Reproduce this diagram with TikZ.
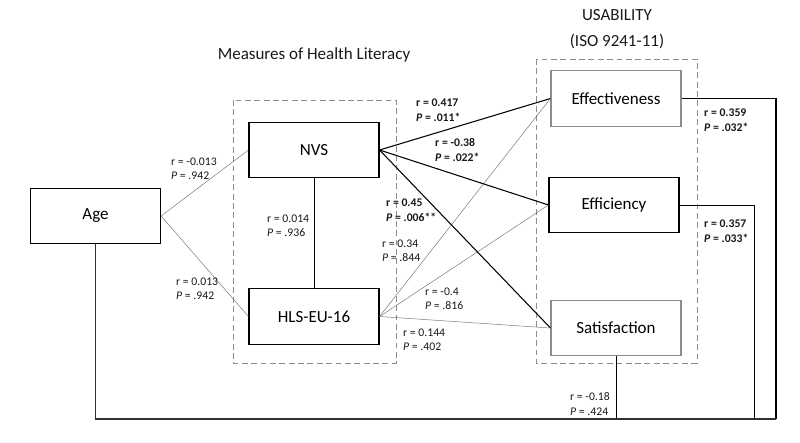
\documentclass[tikz,border=0pt]{standalone}
\usepackage{fontspec}
\setmainfont{Carlito}
\usepackage{tikz}
\usetikzlibrary{positioning}

\tikzset{
  varbox/.style={draw, line width=0.9pt, minimum width=3.9cm, minimum height=1.66cm,
    inner sep=0pt, font=\fontsize{14.5}{16}\selectfont},
  greybox/.style={varbox, draw=black!45},
  groupbox/.style={draw=black!45, line width=0.8pt, dash pattern=on 5pt off 3pt},
  corr/.style={anchor=west, align=left, inner sep=0pt, text=black!90,
    font=\fontsize{10}{12.3}\selectfont},
  title/.style={inner sep=0pt, align=center, text=black!90,
    font=\fontsize{14.5}{22.5}\selectfont},
  weak/.style={black!55, line width=0.4pt},
  strong/.style={black, line width=0.9pt},
}

\begin{document}
\begin{tikzpicture}[x={(0.03cm,0cm)}, y={(0cm,-0.03cm)}]

    \useasboundingbox (0,0) rectangle (800,443);

    % Group frames
    \draw[groupbox] (233,100) rectangle (396,363);
    \draw[groupbox] (536,59) rectangle (697,363);
    \node[title] (hltitle) at (314,55) {Measures of Health Literacy};
    \node[title] (ustitle) at (617,29) {USABILITY\\(ISO 9241-11)};

    % Variables
    \node[varbox] (age) at (95.5,216) {Age};
    \node[varbox] (nvs) at (314,150) {NVS};
    \node[varbox] (hls) at (314,316.5) {HLS-EU-16};
    \node[greybox] (eff) at (616,98.5) {Effectiveness};
    \node[varbox] (effi) at (614,205) {Efficiency};
    \node[greybox] (sat) at (616,328) {Satisfaction};

    % Corner points of the outer links
    \coordinate (cornera) at (776,419);
    \coordinate (cornerb) at (754,419);

    % Links between the measures
    \draw[weak] (age.east) -- (nvs.west);
    \draw[weak] (age.east) -- (hls.west);
    \draw[black, line width=0.5pt] (nvs.south) -- (hls.north);

    % Links to usability
    \foreach \u in {eff, effi, sat} {
      \draw[strong] (nvs.east) -- (\u.west);
      \draw[weak] (hls.east) -- (\u.west);
    }

    % Links of usability to age
    \draw[black, line width=1pt] (eff.east) -| (cornera);
    \draw[black, line width=0.6pt] (effi.east) -| (cornerb);
    \draw[black, line width=0.6pt] (sat.south) -- (sat.south |- cornera);
    \draw[black!80, line width=1pt] (age.south) |- (cornera);

    % Correlations
    \node[corr] (ran) at (171,169) {r = -0.013\\\textit{P} = .942};
    \node[corr] (rah) at (176,289) {r = 0.013\\\textit{P} = .942};
    \node[corr] (rnh) at (267,226) {r = 0.014\\\textit{P} = .936};
    \node[corr] (rne) at (416,110) {\textbf{r = 0.417}\\\textbf{\textit{P} = .011*}};
    \node[corr] (rnf) at (435,150) {\textbf{r = -0.38}\\\textbf{\textit{P} = .022*}};
    \node[corr] (rns) at (386,210) {\textbf{r = 0.45}\\\textbf{\textit{P} = .006**}};
    \node[corr] (rhe) at (382,251) {r = 0.34\\\textit{P} = .844};
    \node[corr] (rhf) at (425,299) {r = -0.4\\\textit{P} = .816};
    \node[corr] (rhs) at (403,340) {r = 0.144\\\textit{P} = .402};
    \node[corr] (rae) at (704,120) {\textbf{r = 0.359}\\\textbf{\textit{P} = .032*}};
    \node[corr] (raf) at (704,231) {\textbf{r = 0.357}\\\textbf{\textit{P} = .033*}};
    \node[corr] (ras) at (570,404) {r = -0.18\\\textit{P} = .424};

\end{tikzpicture}
\end{document}
